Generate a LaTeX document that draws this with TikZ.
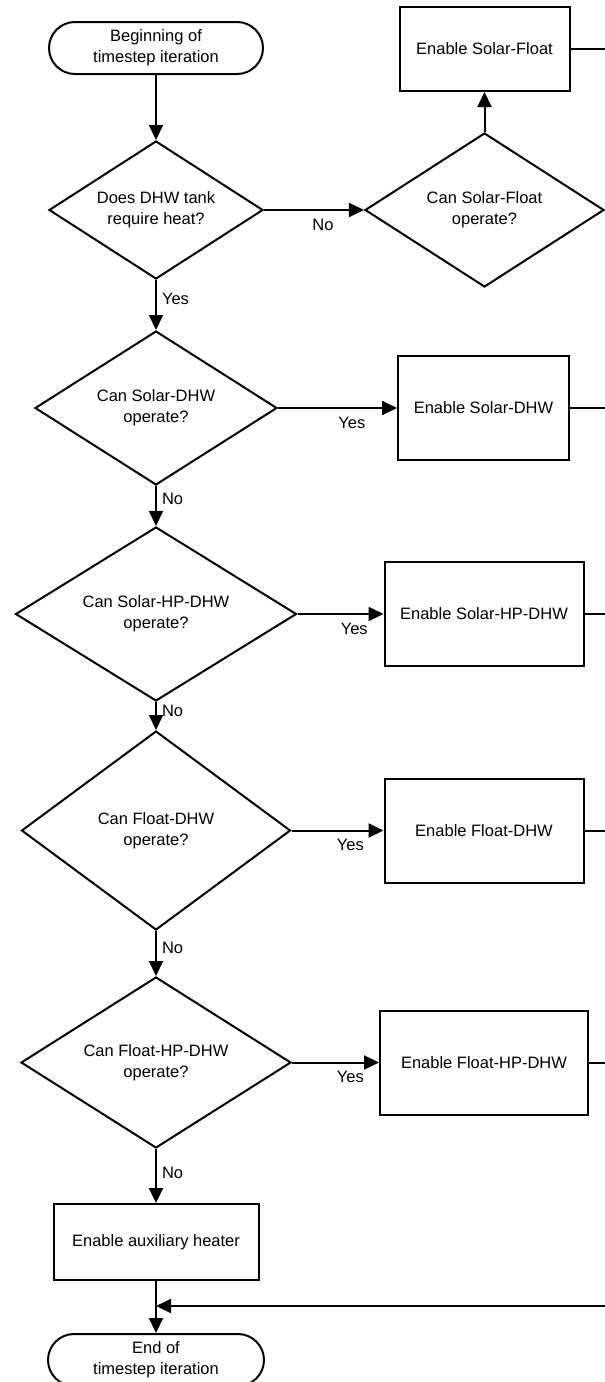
\documentclass[tikz,border=0pt]{standalone}
\usepackage{fontspec}
\setmainfont{Liberation Sans}
\usetikzlibrary{arrows.meta,shapes.geometric,positioning}

\begin{document}
\begin{tikzpicture}[node distance = 50pt]
  \useasboundingbox (0pt,0pt) rectangle (605pt,-1382pt);
  \tikzset{TerminalStyle/.style = {draw,
                                   line width      = 2pt,
                                   rounded corners = 26pt,
                                   align           = center,
                                   inner sep       = 0pt,
                                   minimum height  = 52pt,
                                   font            = \fontsize{16.5}{21}\selectfont}}
  \tikzset{DecisionStyle/.style = {shape          = diamond,
                                   draw,
                                   line width     = 2pt,
                                   aspect         = 1.6,
                                   align          = center,
                                   inner sep      = 0pt,
                                   font           = \fontsize{16.5}{21}\selectfont}}
  \tikzset{ProcessStyle/.style  = {shape          = rectangle,
                                   draw,
                                   line width     = 2pt,
                                   align          = center,
                                   inner sep      = 0pt,
                                   font           = \fontsize{16.5}{21}\selectfont}}
  \tikzset{EdgeStyle/.style     = {line width     = 2pt,
                                   -{Triangle[length=15pt,width=14pt]}}}
  \tikzset{LineStyle/.style     = {line width     = 2pt}}
  \tikzset{LabelStyle/.style    = {inner sep      = 5pt,
                                   font           = \fontsize{16.5}{21}\selectfont}}
     % main column
     \node[TerminalStyle, minimum width=214pt] (start) at (156pt,-48pt) {Beginning of\\timestep iteration};
     \node[DecisionStyle, minimum width=214pt, minimum height=138pt, below=65pt of start] (dhwQ) {Does DHW tank\\require heat?};
     \node[DecisionStyle, minimum width=242pt, minimum height=154pt, below=50pt of dhwQ] (soldhwQ) {Can Solar-DHW\\operate?};
     \node[DecisionStyle, minimum width=281pt, minimum height=174pt, below=40pt of soldhwQ] (solhpQ) {Can Solar-HP-DHW\\operate?};
     \node[DecisionStyle, minimum width=269pt, minimum height=199pt, below=28pt of solhpQ] (floatQ) {Can Float-DHW\\operate?};
     \node[DecisionStyle, minimum width=270pt, minimum height=171pt, below=45pt of floatQ] (floathpQ) {Can Float-HP-DHW\\operate?};
     \node[ProcessStyle, minimum width=205pt, minimum height=76pt, below=54pt of floathpQ] (aux) {Enable auxiliary heater};
     \node[TerminalStyle, minimum width=216pt, below=52pt of aux] (end) {End of\\timestep iteration};
     % right column
     \node[DecisionStyle, minimum width=239pt, minimum height=154pt, right=100pt of dhwQ] (solfloatQ) {Can Solar-Float\\operate?};
     \node[ProcessStyle, minimum width=170pt, minimum height=84pt, above=40pt of solfloatQ] (solfloat) {Enable Solar-Float};
     \node[ProcessStyle, minimum width=171pt, minimum height=104pt, right=119pt of soldhwQ] (soldhw) {Enable Solar-DHW};
     \node[ProcessStyle, minimum width=199pt, minimum height=104pt, right=86pt of solhpQ] (solhp) {Enable Solar-HP-DHW};
     \node[ProcessStyle, minimum width=199pt, minimum height=104pt, right=92pt of floatQ] (float) {Enable Float-DHW};
     \node[ProcessStyle, minimum width=208pt, minimum height=104pt, right=87pt of floathpQ] (floathp) {Enable Float-HP-DHW};
     % bus on the right edge
     \coordinate (bus) at (607pt,0pt);
     \coordinate (solfloatR) at (solfloat -| bus);
     \coordinate (soldhwR) at (soldhw -| bus);
     \coordinate (solhpR) at (solhp -| bus);
     \coordinate (floatR) at (float -| bus);
     \coordinate (floathpR) at (floathp -| bus);
     \coordinate (ret) at (607pt,-1306pt);
     \coordinate (join) at (aux |- ret);

     \draw[EdgeStyle] (start) -- (dhwQ);
     \draw[EdgeStyle] (dhwQ) -- node[LabelStyle, below=3pt, pos=0.59]{No} (solfloatQ);
     \draw[EdgeStyle] (solfloatQ) -- (solfloat);
     \draw[EdgeStyle] (dhwQ) -- node[LabelStyle, right, pos=0.37]{Yes} (soldhwQ);
     \draw[EdgeStyle] (soldhwQ) -- node[LabelStyle, below=3pt, pos=0.62]{Yes} (soldhw);
     \draw[EdgeStyle] (soldhwQ) -- node[LabelStyle, right, pos=0.33]{No} (solhpQ);
     \draw[EdgeStyle] (solhpQ) -- node[LabelStyle, below=3pt, pos=0.66]{Yes} (solhp);
     \draw[EdgeStyle] (solhpQ) -- node[LabelStyle, right, pos=0.33]{No} (floatQ);
     \draw[EdgeStyle] (floatQ) -- node[LabelStyle, below=3pt, pos=0.64]{Yes} (float);
     \draw[EdgeStyle] (floatQ) -- node[LabelStyle, right, pos=0.38]{No} (floathpQ);
     \draw[EdgeStyle] (floathpQ) -- node[LabelStyle, below=3pt, pos=0.67]{Yes} (floathp);
     \draw[EdgeStyle] (floathpQ) -- node[LabelStyle, right, pos=0.45]{No} (aux);
     \draw[EdgeStyle] (aux) -- (end);

     \draw[LineStyle] (solfloat) -- (solfloatR);
     \draw[LineStyle] (soldhw) -- (soldhwR);
     \draw[LineStyle] (solhp) -- (solhpR);
     \draw[LineStyle] (float) -- (floatR);
     \draw[LineStyle] (floathp) -- (floathpR);
     \draw[EdgeStyle] (ret) -- (join);

  \end{tikzpicture}
\end{document}
